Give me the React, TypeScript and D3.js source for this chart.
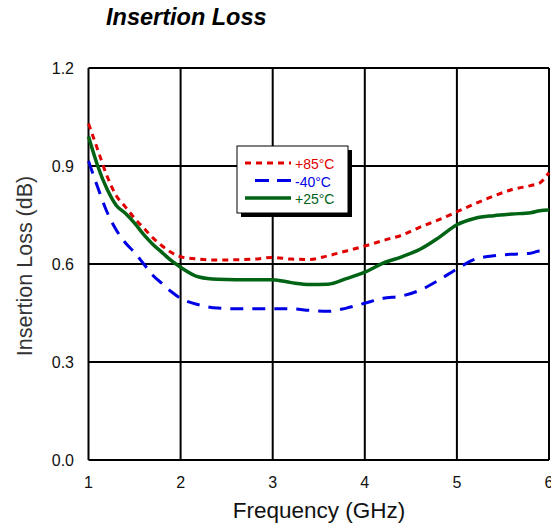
import React from 'react';
import * as d3 from 'd3';

// frequency points (GHz) shared by all series
const freqs = [1.0, 1.1, 1.2, 1.3, 1.4, 1.5, 1.6, 1.7, 1.8, 1.9, 2.0, 2.2, 2.4, 2.6, 2.8, 3.0, 3.2, 3.4, 3.6, 3.8, 4.0, 4.2, 4.4, 4.6, 4.8, 5.0, 5.2, 5.4, 5.6, 5.8, 5.9, 6.0];

const loss85 = [1.03, 0.95, 0.87, 0.81, 0.775, 0.74, 0.71, 0.68, 0.655, 0.635, 0.622, 0.615, 0.612, 0.613, 0.615, 0.62, 0.615, 0.614, 0.625, 0.64, 0.655, 0.672, 0.688, 0.713, 0.735, 0.76, 0.785, 0.808, 0.828, 0.84, 0.848, 0.88];
const lossM40 = [0.915, 0.835, 0.76, 0.705, 0.665, 0.635, 0.6, 0.565, 0.54, 0.515, 0.495, 0.475, 0.465, 0.463, 0.463, 0.463, 0.463, 0.458, 0.455, 0.465, 0.48, 0.495, 0.502, 0.52, 0.55, 0.585, 0.615, 0.625, 0.63, 0.633, 0.64, 0.64];
const loss25 = [0.99, 0.9, 0.83, 0.78, 0.755, 0.725, 0.69, 0.66, 0.635, 0.61, 0.59, 0.56, 0.553, 0.552, 0.552, 0.552, 0.543, 0.537, 0.538, 0.555, 0.575, 0.603, 0.622, 0.645, 0.68, 0.72, 0.74, 0.748, 0.753, 0.757, 0.763, 0.765];

const xTicks = [1, 2, 3, 4, 5, 6];
const yTicks = [0, 0.3, 0.6, 0.9, 1.2];

const series = [
  { label: '+85°C', values: loss85, color: '#e00000', dash: '6,5', width: 3 },
  { label: '-40°C', values: lossM40, color: '#0000e6', dash: '13,9', width: 3 },
  { label: '+25°C', values: loss25, color: '#006414', dash: null, width: 3.5 },
];

const W = 551;
const H = 525;
const margin = { top: 68, right: 2, bottom: 65, left: 88.5 };
const font = '"Liberation Sans", Arial, sans-serif';

export default function App() {
  const x = d3.scaleLinear().domain([1, 6]).range([margin.left, W - margin.right]);
  const y = d3.scaleLinear().domain([0, 1.2]).range([H - margin.bottom, margin.top]);

  const line = d3.line<number>()
    .x((_, i) => x(freqs[i]))
    .y(d => y(d))
    .curve(d3.curveMonotoneX);

  const top = y(1.2);
  const bottom = y(0);
  const left = x(1);
  const right = x(6);

  // legend box
  const lg = { x: 237, y: 146, w: 111, h: 67 };

  return (
    <svg width={W} height={H} style={{ position: 'absolute', left: 0, top: 0, background: '#fff' }}>
      <text x={106} y={25} fontFamily={font} fontSize={23.5} fontWeight="bold" fontStyle="italic" fill="#000">
        Insertion Loss
      </text>

      {/* grid */}
      {xTicks.map(t => (
        <line key={'gx' + t} x1={x(t)} x2={x(t)} y1={top} y2={bottom} stroke="#000" strokeWidth={2} />
      ))}
      {yTicks.map(t => (
        <line key={'gy' + t} x1={left} x2={right} y1={y(t)} y2={y(t)} stroke="#000" strokeWidth={2} />
      ))}

      {/* tick labels */}
      {xTicks.map(t => (
        <text key={'tx' + t} x={x(t)} y={488} textAnchor="middle" fontFamily={font} fontSize={16} fill="#111">
          {t}
        </text>
      ))}
      {yTicks.map(t => (
        <text key={'ty' + t} x={74} y={y(t) + 6} textAnchor="end" fontFamily={font} fontSize={16} fill="#111">
          {t.toFixed(1)}
        </text>
      ))}

      <text x={319} y={518} textAnchor="middle" fontFamily={font} fontSize={22.5} fill="#111">
        Frequency (GHz)
      </text>
      <text
        transform="translate(32,266) rotate(-90)"
        textAnchor="middle"
        fontFamily={font}
        fontSize={21.5}
        fill="#333"
      >
        Insertion Loss (dB)
      </text>

      {/* series */}
      {series.map(s => (
        <path
          key={s.label}
          d={line(s.values) || ''}
          fill="none"
          stroke={s.color}
          strokeWidth={s.width}
          strokeDasharray={s.dash || undefined}
        />
      ))}

      {/* legend */}
      <rect x={lg.x + 4} y={lg.y + 4} width={lg.w} height={lg.h} fill="#000" />
      <rect x={lg.x} y={lg.y} width={lg.w} height={lg.h} fill="#fff" stroke="#000" strokeWidth={1} />
      {series.map((s, i) => {
        const ly = 164 + i * 17.5;
        return (
          <g key={'lg' + s.label}>
            <line
              x1={245}
              x2={291}
              y1={ly - 1}
              y2={ly - 1}
              stroke={s.color}
              strokeWidth={s.width}
              strokeDasharray={s.dash ? (i === 1 ? '0,10,14,8,14' : s.dash) : undefined}
            />
            <text x={295} y={ly + 5} fontFamily={font} fontSize={14} fill={s.color}>
              {s.label}
            </text>
          </g>
        );
      })}
    </svg>
  );
}
